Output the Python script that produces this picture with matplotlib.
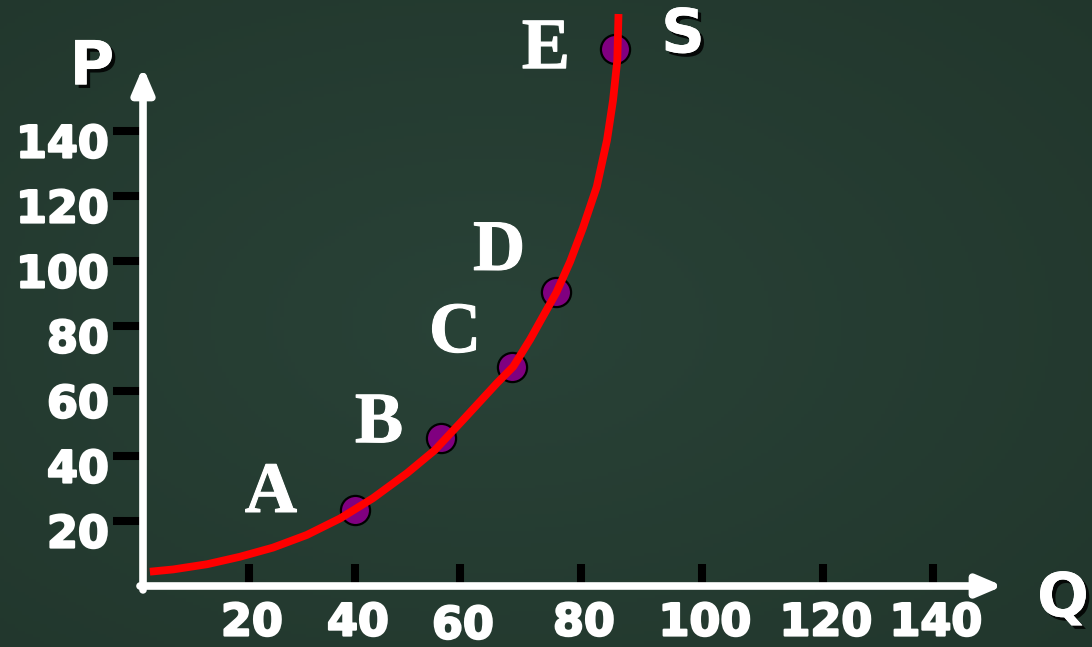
import matplotlib
matplotlib.use("Agg")
import matplotlib.pyplot as plt
import matplotlib.patheffects as pe
import numpy as np

# tick values shown on the axes
q_ticks = [20, 40, 60, 80, 100, 120, 140]
p_ticks = [20, 40, 60, 80, 100, 120, 140]

# points on the supply curve (Q, P)
point_names = ["A", "B", "C", "D", "E"]
point_q = [40, 56.4, 68.6, 75.9, 85.6]
point_p = [23.4, 45.5, 67.4, 90.5, 165.2]

# supply curve S
curve_q = [1.3, 5.7, 12.1, 18.3, 24.5, 30.9, 37.2, 43.4, 49.9, 55.2, 60.5,
           66.1, 68.8, 71.6, 73.7, 75.9, 78.2, 80.3, 82.6, 84.3, 85.3, 86.0, 86.2]
curve_p = [4.4, 5.1, 6.7, 9.0, 11.8, 15.7, 20.8, 27.0, 34.7, 41.8, 51.1,
           62.4, 67.5, 75.9, 82.9, 90.2, 99.8, 110.1, 122.8, 137.2, 149.5, 161.8, 176.0]

# the Q axis of the original is hand drawn: pixel column of each tick
q_tick_px = [143, 249, 355, 460, 581, 702, 823, 933]
q_tick_val = [0] + q_ticks


def q_to_px(v):
    v = np.asarray(v, dtype=float)
    xv, xp = np.array(q_tick_val, float), np.array(q_tick_px, float)
    out = np.interp(v, xv, xp)
    lo_slope = (xp[1] - xp[0]) / (xv[1] - xv[0])
    hi_slope = (xp[-1] - xp[-2]) / (xv[-1] - xv[-2])
    out = np.where(v < xv[0], xp[0] + (v - xv[0]) * lo_slope, out)
    out = np.where(v > xv[-1], xp[-1] + (v - xv[-1]) * hi_slope, out)
    return out


def px_to_q(p):
    p = np.asarray(p, dtype=float)
    xv, xp = np.array(q_tick_val, float), np.array(q_tick_px, float)
    out = np.interp(p, xp, xv)
    lo_slope = (xv[1] - xv[0]) / (xp[1] - xp[0])
    hi_slope = (xv[-1] - xv[-2]) / (xp[-1] - xp[-2])
    out = np.where(p < xp[0], xv[0] + (p - xp[0]) * lo_slope, out)
    out = np.where(p > xp[-1], xv[-1] + (p - xp[-1]) * hi_slope, out)
    return out


W, H = 1092, 647
fig = plt.figure(figsize=(W / 100, H / 100), dpi=100)

# chalkboard background
bg = fig.add_axes([0, 0, 1, 1], zorder=0)
yy, xx = np.mgrid[0:1:200j, 0:1:300j]
r = np.sqrt(((xx - 0.45) / 0.9) ** 2 + ((yy - 0.5) / 0.9) ** 2)
dark = np.array([0x20, 0x34, 0x2a]) / 255
light = np.array([0x29, 0x42, 0x37]) / 255
t = np.clip(r, 0, 1)[..., None]
bg.imshow(light * (1 - t) + dark * t, aspect="auto", extent=[0, 1, 0, 1])
bg.axis("off")

ax = fig.add_axes([0, 0, 1, 1], zorder=1)
ax.patch.set_alpha(0)
ax.set_xscale("function", functions=(q_to_px, px_to_q))
ax.set_xlim(float(px_to_q(0)), float(px_to_q(W)))
ax.set_ylim(-(H - 586) / 3.25, 586 / 3.25)
ax.axis("off")

white = "white"
heavy = [pe.withStroke(linewidth=1.6, foreground=white)]
num_font = dict(family="DejaVu Sans", weight="bold", size=32, color=white,
                path_effects=heavy)

# axes with arrow heads
q_end = float(px_to_q(1003))
p_end = 159.7
arrow = dict(arrowstyle="-|>,head_length=0.75,head_width=0.32", lw=5.5,
             color=white, mutation_scale=20, shrinkA=0, shrinkB=0)
ax.annotate("", xy=(q_end, 0), xytext=(float(px_to_q(140)), 0), arrowprops=arrow)
ax.annotate("", xy=(0, p_end), xytext=(0, -1.2), arrowprops=arrow)

# tick marks
ax.hlines(p_ticks, float(px_to_q(113)), 0, color="black", lw=5.8)
ax.vlines(q_ticks, 0.9, 6.8, color="black", lw=5.8)

for v in p_ticks:
    ax.annotate(str(v), xy=(0, v), xytext=(-34, -14), textcoords="offset pixels",
                ha="right", va="center", **num_font)
for v in q_ticks:
    dy = -40 if v == 60 else -37
    ax.annotate(str(v), xy=(v, 0), xytext=(3, dy), textcoords="offset pixels",
                ha="center", va="center", **num_font)

# curve and points
ax.plot(curve_q, curve_p, color="#ff0000", lw=5.6, solid_capstyle="butt",
        solid_joinstyle="round", zorder=4)
ax.plot(point_q, point_p, "o", ms=21, mfc="#800080", mec="black", mew=1.6,
        zorder=3, linestyle="none")

label_off = [(-84, -2), (-62, -4), (-57, 15), (-57, 22), (-69, -19)]
for name, q, p, off in zip(point_names, point_q, point_p, label_off):
    ax.annotate(name, xy=(q, p), xytext=off, textcoords="offset pixels",
                ha="center", va="baseline", family="Liberation Serif",
                weight="bold", size=52, color=white, zorder=5,
                path_effects=[pe.withStroke(linewidth=0.8, foreground=white)])

shadow = [pe.withSimplePatchShadow(offset=(2.5, -2.5), shadow_rgbFace="black",
                                   alpha=0.85), pe.Normal()]
for txt, xpx, ypx in [("P", 92, 68), ("S", 683, 36), ("Q", 1063, 600)]:
    ax.text(float(px_to_q(xpx)), (586 - ypx) / 3.25, txt, ha="center",
            va="center", family="DejaVu Sans", weight="bold", size=44,
            color=white, path_effects=shadow, zorder=5)

fig.savefig("out.png", dpi=100)
